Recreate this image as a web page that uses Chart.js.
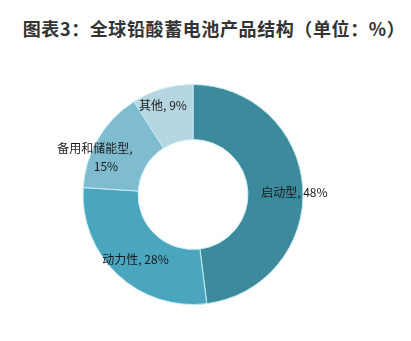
<!DOCTYPE html>
<html>
<head>
<meta charset="utf-8">
<script src="https://cdn.jsdelivr.net/npm/chart.js@4.4.1/dist/chart.umd.min.js"></script>
<style>
  html, body { margin: 0; padding: 0; background: #ffffff; }
  #wrap { position: relative; width: 411px; height: 341px; overflow: hidden; }
  #title {
    position: absolute; left: 0; width: 428px; top: 16px;
    text-align: center; font: bold 18px "Noto Sans CJK SC", sans-serif;
    color: #333333; line-height: 24px; white-space: nowrap; letter-spacing: 0.6px;
  }
  canvas { position: absolute; left: 0; top: 0; }
</style>
</head>
<body>
<div id="wrap">
  <div id="title">图表3：全球铅酸蓄电池产品结构（单位：%）</div>
  <canvas id="c" width="411" height="341"></canvas>
</div>
<script>
// Product categories and their share of global lead-acid battery output (%)
const categories = ['启动型', '动力性', '备用和储能型', '其他'];
const shares = [48, 28, 15, 9];
const sliceColors = ['#3c8a9c', '#4aa5be', '#7fbccf', '#b5d6e1'];

// Label text lines for each slice
const labelLines = [
  ['启动型, 48%'],
  ['动力性, 28%'],
  ['备用和储能型,', '15%'],
  ['其他, 9%']
];
// Nudges (px) from each slice's mid-point to where its label sits
const labelNudge = [[19, 3], [-1, 5], [-22, 5], [-7, -10]];
// Horizontal shifts per line (for the wrapped label)
const lineShift = [[0], [0], [-5, 6], [0]];

const sliceLabels = {
  id: 'sliceLabels',
  afterDatasetsDraw(chart) {
    const ctx = chart.ctx;
    const meta = chart.getDatasetMeta(0);
    ctx.save();
    ctx.font = '12px "Noto Sans CJK SC", sans-serif';
    ctx.fillStyle = '#1a1a1a';
    ctx.textAlign = 'center';
    ctx.textBaseline = 'middle';
    meta.data.forEach((arc, i) => {
      const p = arc.tooltipPosition();
      const lines = labelLines[i];
      const lh = 18;
      const y0 = p.y + labelNudge[i][1] - (lines.length - 1) * lh / 2;
      lines.forEach((t, j) => {
        ctx.fillText(t, p.x + labelNudge[i][0] + lineShift[i][j], y0 + j * lh);
      });
    });
    ctx.restore();
  }
};

new Chart(document.getElementById('c'), {
  type: 'doughnut',
  data: {
    labels: categories,
    datasets: [{
      data: shares,
      backgroundColor: sliceColors,
      borderColor: '#c4ecf3',
      borderWidth: 1
    }]
  },
  options: {
    responsive: false,
    animation: false,
    cutout: '50%',
    layout: { padding: { left: 0, right: 25, top: 84, bottom: 36 } },
    plugins: {
      legend: { display: false },
      title: { display: false },
      tooltip: { enabled: false }
    }
  },
  plugins: [sliceLabels]
});
</script>
</body>
</html>
